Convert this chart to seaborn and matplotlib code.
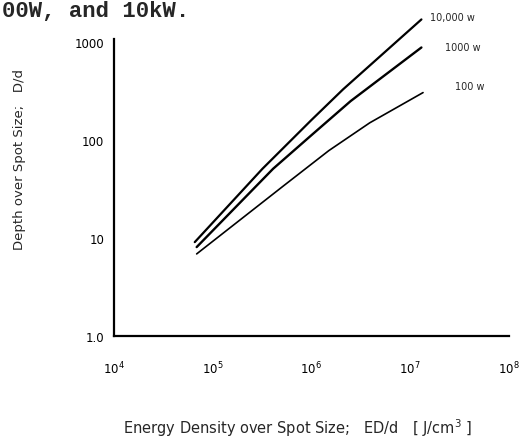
import pandas as pd
import numpy as np
import matplotlib
matplotlib.use('Agg')
import matplotlib.pyplot as plt
import seaborn as sns

# values (log-log)
ed_10kw = [6.6e4, 3.2e5, 1.0e6, 2.1e6, 1.3e7]
dd_10kw = [9.1, 51, 160, 330, 1700]
ed_1kw = [6.9e4, 4.1e5, 1.0e6, 2.5e6, 1.3e7]
dd_1kw = [8.1, 51, 112, 250, 880]
ed_100w = [6.9e4, 5.2e5, 1.5e6, 3.9e6, 1.35e7]
dd_100w = [6.9, 34, 78, 150, 305]
series_names = ['10,000 w', '1000 w', '100 w']
y_ticks = [1, 10, 100, 1000]
y_ticklabels = ['1.0', '10', '100', '1000']
x_ticks = [1e4, 1e5, 1e6, 1e7, 1e8]
x_ticklabels = ['10$^4$', '10$^5$', '10$^6$', '10$^7$', '10$^8$']

df = pd.concat([
    pd.DataFrame({'ed': ed_10kw, 'dd': dd_10kw, 'power': series_names[0]}),
    pd.DataFrame({'ed': ed_1kw, 'dd': dd_1kw, 'power': series_names[1]}),
    pd.DataFrame({'ed': ed_100w, 'dd': dd_100w, 'power': series_names[2]}),
])

sns.set_style('white')
plt.rcParams['font.family'] = ['DejaVu Sans']

fig = plt.figure(figsize=(5.22, 4.39), dpi=100)
ax = fig.add_axes([0.218, 0.232, 0.757, 0.677])

sns.lineplot(data=df, x='ed', y='dd', hue='power', palette=['black'] * 3,
             sort=False, legend=False, ax=ax)
widths = [1.6, 1.7, 1.2]
for ln, w in zip(ax.lines, widths):
    ln.set_clip_on(False)
    ln.set_linewidth(w)
    ln.set_solid_joinstyle('round')

ax.set_xscale('log')
ax.set_yscale('log')
ax.set_xlim(1e4, 1e8)
ax.set_ylim(1, 1075)
ax.set_xticks(x_ticks)
ax.set_xticklabels(x_ticklabels, fontsize=8.5)
ax.set_yticks(y_ticks)
ax.set_yticklabels(y_ticklabels, fontsize=8.5)
ax.minorticks_off()
ax.tick_params(axis='x', direction='out', length=3, width=1.2, pad=14, colors='black')
ax.tick_params(axis='y', direction='out', length=3, width=1.2, pad=4, colors='black')
ax.set_xlabel('')
ax.set_ylabel('')
for side in ['top', 'right']:
    ax.spines[side].set_visible(False)
for side in ['left', 'bottom']:
    ax.spines[side].set_linewidth(1.6)
    ax.spines[side].set_color('black')

# curve labels
fig.text(0.824, 1 - 18 / 439, series_names[0], fontsize=7, va='center')
fig.text(0.852, 1 - 48 / 439, series_names[1], fontsize=7, va='center')
fig.text(0.872, 1 - 87 / 439, series_names[2], fontsize=7, va='center')

fig.text(0.038, 1 - 160 / 439, 'Depth over Spot Size;   D/d', rotation=90,
         fontsize=9.5, ha='center', va='center')
fig.text(0.57, 1 - 428 / 439, 'Energy Density over Spot Size;   ED/d   [ J/cm$^3$ ]',
         fontsize=10.5, ha='center', va='center')

# caption line from the scanned page
fig.text(0.004, 1 - 17 / 439, '00W, and 10kW.', fontsize=16, fontweight='bold',
         family=['Liberation Mono', 'DejaVu Sans Mono'], va='baseline')

fig.savefig('out.png', dpi=100)
